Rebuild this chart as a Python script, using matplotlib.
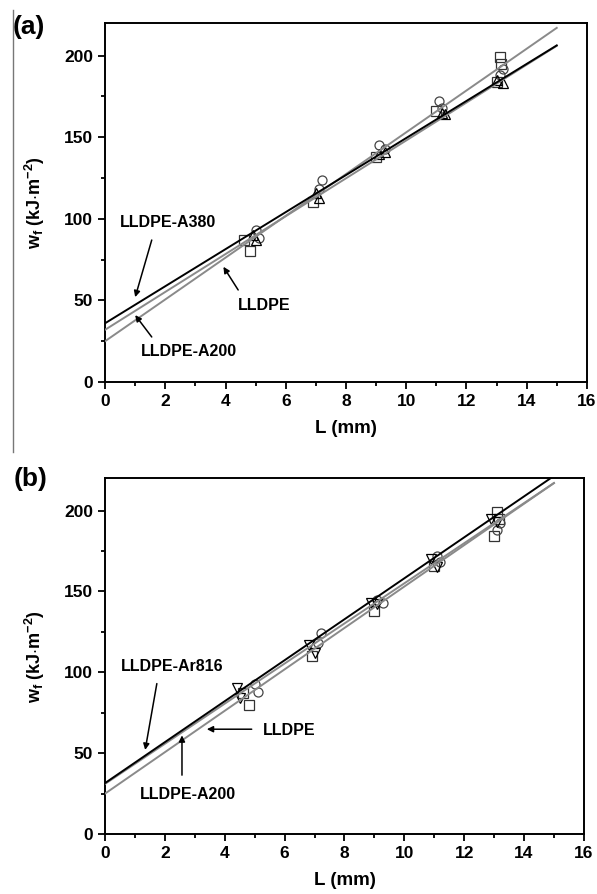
import numpy as np
import matplotlib
matplotlib.use('Agg')
import matplotlib.pyplot as plt

plt.rcParams['font.family'] = ['Liberation Sans', 'DejaVu Sans']
plt.rcParams['font.weight'] = 'bold'
plt.rcParams['mathtext.fontset'] = 'custom'
plt.rcParams['mathtext.rm'] = 'Liberation Sans:bold'
plt.rcParams['mathtext.it'] = 'Liberation Sans:bold'
plt.rcParams['mathtext.bf'] = 'Liberation Sans:bold'

## DATA

# LLDPE (squares)
L_sq = [4.6, 4.8, 6.9, 9.0, 11.0, 13.0, 13.1, 13.15]
w_sq = [87, 80, 110, 138, 166, 184, 199, 195]
# LLDPE-A200 (circles)
L_ci = [5.0, 5.1, 7.2, 7.1, 9.1, 9.3, 11.1, 11.2, 13.2, 13.1]
w_ci = [93, 88, 124, 118, 145, 143, 172, 168, 192, 188]
# LLDPE-A380 (up triangles)
L_up = [5.0, 4.9, 7.0, 7.1, 9.1, 9.3, 11.2, 11.3, 13.2, 13.0]
w_up = [87, 90, 116, 113, 140, 141, 165, 164, 183, 185]
# LLDPE-Ar816 (down triangles)
L_dn = [4.4, 4.5, 6.8, 7.0, 8.9, 9.1, 10.9, 11.1, 12.9, 13.1]
w_dn = [90, 84, 117, 112, 143, 142, 170, 165, 195, 193]

# linear fits: intercept, slope
fit_lldpe = (25.0, 12.8)
fit_a200_a = (32.0, 11.6)
fit_a200_b = (31.0, 12.4)
fit_a380 = (36.0, 11.35)
fit_ar816 = (31.5, 12.66)

x_fit = np.array([0, 15])

fig = plt.figure(figsize=(5.97, 8.94), dpi=100)
ax_a = fig.add_axes([0.176, 0.5727, 0.807, 0.4016])
ax_b = fig.add_axes([0.176, 0.0671, 0.802, 0.398])

gray = '#8a8a8a'


def style_axes(ax):
    ax.set_xlim(0, 16)
    ax.set_ylim(0, 220)
    ax.set_xticks(np.arange(0, 17, 2))
    ax.set_xticks(np.arange(1, 16, 2), minor=True)
    ax.set_yticks([0, 50, 100, 150, 200])
    ax.set_yticks([25, 75, 125, 175], minor=True)
    ax.tick_params(which='both', direction='out', top=False, right=False,
                   width=1.3, labelsize=12.5)
    ax.tick_params(which='major', length=5)
    ax.tick_params(which='minor', length=3)
    for s in ax.spines.values():
        s.set_linewidth(1.4)
    ax.set_xlabel('L (mm)', fontsize=13.5, fontweight='bold', labelpad=8)
    ax.set_ylabel(r'$w_f$ (kJ$\cdot$m$^{-2}$)', fontsize=13, fontweight='bold', labelpad=12)


def line(ax, fit, c, lw=1.4):
    ax.plot(x_fit, fit[0] + fit[1] * x_fit, color=c, lw=lw, zorder=3)


mk = dict(ls='none', mfc='none', ms=6.5, mew=0.9, zorder=2)

def arrow(ax, txt_from, tip):
    ax.annotate('', xy=tip, xytext=txt_from,
                arrowprops=dict(arrowstyle='-|>', color='k', lw=1.1,
                                mutation_scale=9, shrinkA=0, shrinkB=0))

## PANEL (a)
ax = ax_a
ax.plot(L_sq, w_sq, marker='s', mec='#333333', **mk)
ax.plot(L_ci, w_ci, marker='o', mec='#444444', **mk)
ax.plot(L_up, w_up, marker='^', mec='k', **mk)
line(ax, fit_lldpe, gray)
line(ax, fit_a200_a, gray)
line(ax, fit_a380, 'k')
style_axes(ax)
ax.text(2.1, 98, 'LLDPE-A380', fontsize=11.5, fontweight='bold', ha='center', va='center')
arrow(ax, (1.55, 87), (1.0, 52))
ax.text(5.28, 46.6, 'LLDPE', fontsize=11.5, fontweight='bold', ha='center', va='center')
arrow(ax, (4.42, 56.4), (3.93, 70.6))
ax.text(2.8, 18.4, 'LLDPE-A200', fontsize=11.5, fontweight='bold', ha='center', va='center')
arrow(ax, (1.55, 27.6), (1.0, 41))

## PANEL (b)
ax = ax_b
ax.plot(L_sq, w_sq, marker='s', mec='#333333', **mk)
ax.plot(L_ci, w_ci, marker='o', mec='#444444', **mk)
ax.plot(L_dn, w_dn, marker='v', mec='k', **mk)
line(ax, fit_lldpe, gray)
line(ax, fit_a200_b, gray)
line(ax, fit_ar816, 'k')
style_axes(ax)
ax.text(2.24, 103.5, 'LLDPE-Ar816', fontsize=11.5, fontweight='bold', ha='center', va='center')
arrow(ax, (1.73, 93), (1.34, 52))
ax.text(6.15, 64, 'LLDPE', fontsize=11.5, fontweight='bold', ha='center', va='center')
arrow(ax, (4.9, 64.8), (3.4, 64.8))
ax.text(2.78, 24.7, 'LLDPE-A200', fontsize=11.5, fontweight='bold', ha='center', va='center')
arrow(ax, (2.57, 36.4), (2.57, 61))

# panel letters
fig.text(29 / 597, 1 - 27 / 894, '(a)', fontsize=19, fontweight='bold', ha='center', va='center')
fig.text(31 / 597, 1 - 479 / 894, '(b)', fontsize=19, fontweight='bold', ha='center', va='center')

# thin grey border line at the left of panel (a)
fig.add_artist(plt.Line2D([13 / 597, 13 / 597], [1 - 10 / 894, 1 - 452 / 894],
                          color='#777777', lw=1.0))

fig.savefig('out.png', dpi=100)
